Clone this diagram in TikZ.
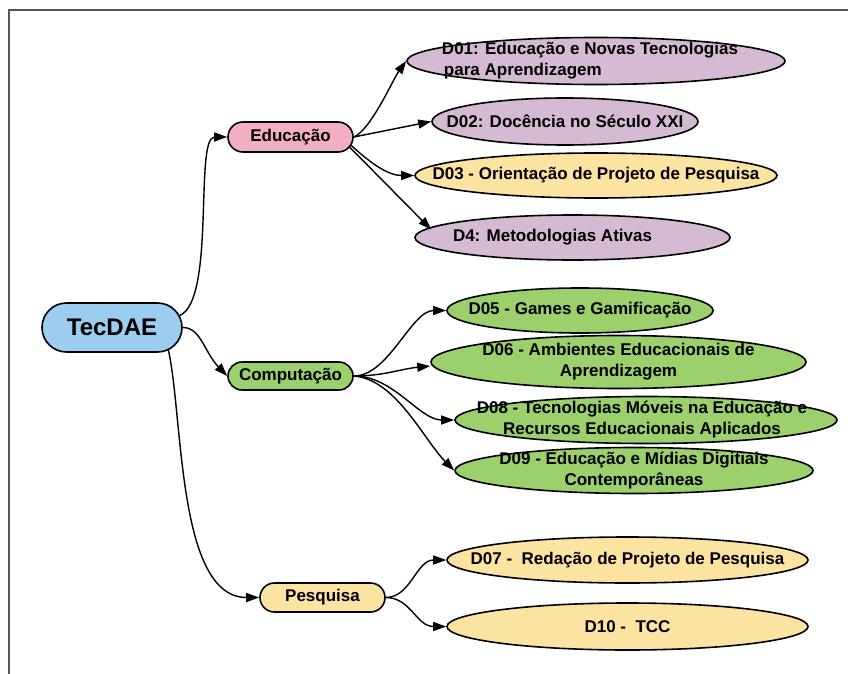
\documentclass[tikz,border=0pt]{standalone}
\usepackage{fontspec}
\setmainfont{Liberation Sans}
\usetikzlibrary{shapes.misc,shapes.geometric,arrows.meta}
\definecolor{cblue}{HTML}{9DCDEE}
\definecolor{cpink}{HTML}{F2AFC3}
\definecolor{cpurp}{HTML}{D4BAD3}
\definecolor{cyel}{HTML}{FBE3A2}
\definecolor{cgreen}{HTML}{9BD06C}
\definecolor{cframe}{HTML}{555555}
\tikzset{
  hub/.style={rounded rectangle, draw=black, line width=1.6pt, inner sep=0pt,
    font=\fontsize{17}{21}\selectfont\bfseries},
  leaf/.style={ellipse, draw=black, line width=1.6pt, inner sep=0pt},
  lbl/.style={inner sep=0pt, align=center, font=\fontsize{17}{21}\selectfont\bfseries},
  conn/.style={line width=1.4pt, -{Triangle[length=13pt,width=9pt]}}
}
\begin{document}
\begin{tikzpicture}[x=1pt,y=-1pt]
\useasboundingbox (0,0) rectangle (848,674);
\draw[cframe, line width=2.2pt] (9,674) -- (9,10) -- (848,10);

% hubs
\node[hub, fill=cblue, minimum width=140pt, minimum height=49pt,
  font=\fontsize{24}{28}\selectfont\bfseries] (tec) at (112,327.5) {TecDAE};
\node[hub, fill=cpink, minimum width=125pt, minimum height=30pt] (edu) at (290.5,137) {Educação};
\node[hub, fill=cgreen, minimum width=125pt, minimum height=28pt] (comp) at (290.5,376) {Computação};
\node[hub, fill=cyel, minimum width=125pt, minimum height=29pt] (pes) at (322.5,597.5) {Pesquisa};

% leaves
\node[leaf, fill=cpurp, minimum width=378pt, minimum height=47pt] (d01) at (596,61) {};
\node[lbl, align=left, xshift=-6pt] (t01) at (d01) {D01: Educação e Novas Tecnologias\\\hspace*{2pt}para Aprendizagem};
\node[leaf, fill=cpurp, minimum width=266pt, minimum height=47pt] (d02) at (565,121.5) {};
\node[lbl] (t02) at (d02) {D02: Docência no Século XXI};
\node[leaf, fill=cyel, minimum width=362pt, minimum height=45pt] (d03) at (596,175.5) {};
\node[lbl] (t03) at (d03) {D03 - Orientação de Projeto de Pesquisa};
\node[leaf, fill=cpurp, minimum width=315pt, minimum height=45pt] (d4) at (572.5,237.5) {};
\node[lbl, xshift=-20pt] (t4) at (d4) {D4: Metodologias Ativas};

\node[leaf, fill=cgreen, minimum width=266pt, minimum height=45pt] (d05) at (580,310.5) {};
\node[lbl] (t05) at (d05) {D05 - Games e Gamificação};
\node[leaf, fill=cgreen, minimum width=375pt, minimum height=53pt] (d06) at (618.5,362) {};
\node[lbl] (t06) at (d06) {D06 - Ambientes Educacionais de\\Aprendizagem};
\node[leaf, fill=cgreen, minimum width=382pt, minimum height=47pt] (d08) at (646,420) {};
\node[lbl, xshift=-4pt] (t08) at (d08) {D08 - Tecnologias Móveis na Educação e\\Recursos Educacionais Aplicados};
\node[leaf, fill=cgreen, minimum width=358pt, minimum height=46pt] (d09) at (634,470.5) {};
\node[lbl] (t09) at (d09) {D09 - Educação e Mídias Digitiais\\Contemporâneas};

\node[leaf, fill=cyel, minimum width=361pt, minimum height=46pt] (d07) at (627.5,560) {};
\node[lbl] (t07) at (d07) {D07 -\ \ Redação de Projeto de Pesquisa};
\node[leaf, fill=cyel, minimum width=361pt, minimum height=47pt] (d10) at (627.5,626.5) {};
\node[lbl] (t10) at (d10) {D10 -\ \ TCC};

\coordinate (d4tip) at ([xshift=17pt,yshift=8pt]d4.west);
\coordinate (d06tip) at ([yshift=-4pt]d06.west);

% connectors
\draw[conn] (tec.10) .. controls +(36,-16) and +(-33,0) .. (edu.west);
\draw[conn] (tec.east) .. controls +(18,0) and +(-23,-24) .. (comp.west);
\draw[conn] (tec.-22) .. controls +(15,68) and +(-82,0) .. (pes.west);

\draw[conn] (edu.east) .. controls +(17,-7) and +(-13,18) .. (d01.west);
\draw[conn] (edu.east) -- (d02.west);
\draw[conn] (edu.-8) .. controls +(22,20) and +(-25,0) .. (d03.west);
\draw[conn] (edu.-10) .. controls +(30,30) and +(-28,-28) .. (d4tip);

\draw[conn] (comp.east) .. controls +(35,0) and +(-35,0) .. (d05.west);
\draw[conn] (comp.east) .. controls +(30,0) and +(-30,3) .. (d06tip);
\draw[conn] (comp.east) .. controls +(40,0) and +(-35,0) .. (d08.west);
\draw[conn] (comp.east) .. controls +(42,3) and +(-30,-30) .. (d09.west);

\draw[conn] (pes.east) .. controls +(25,0) and +(-30,0) .. (d07.west);
\draw[conn] (pes.east) .. controls +(25,0) and +(-30,0) .. (d10.west);
\end{tikzpicture}
\end{document}
